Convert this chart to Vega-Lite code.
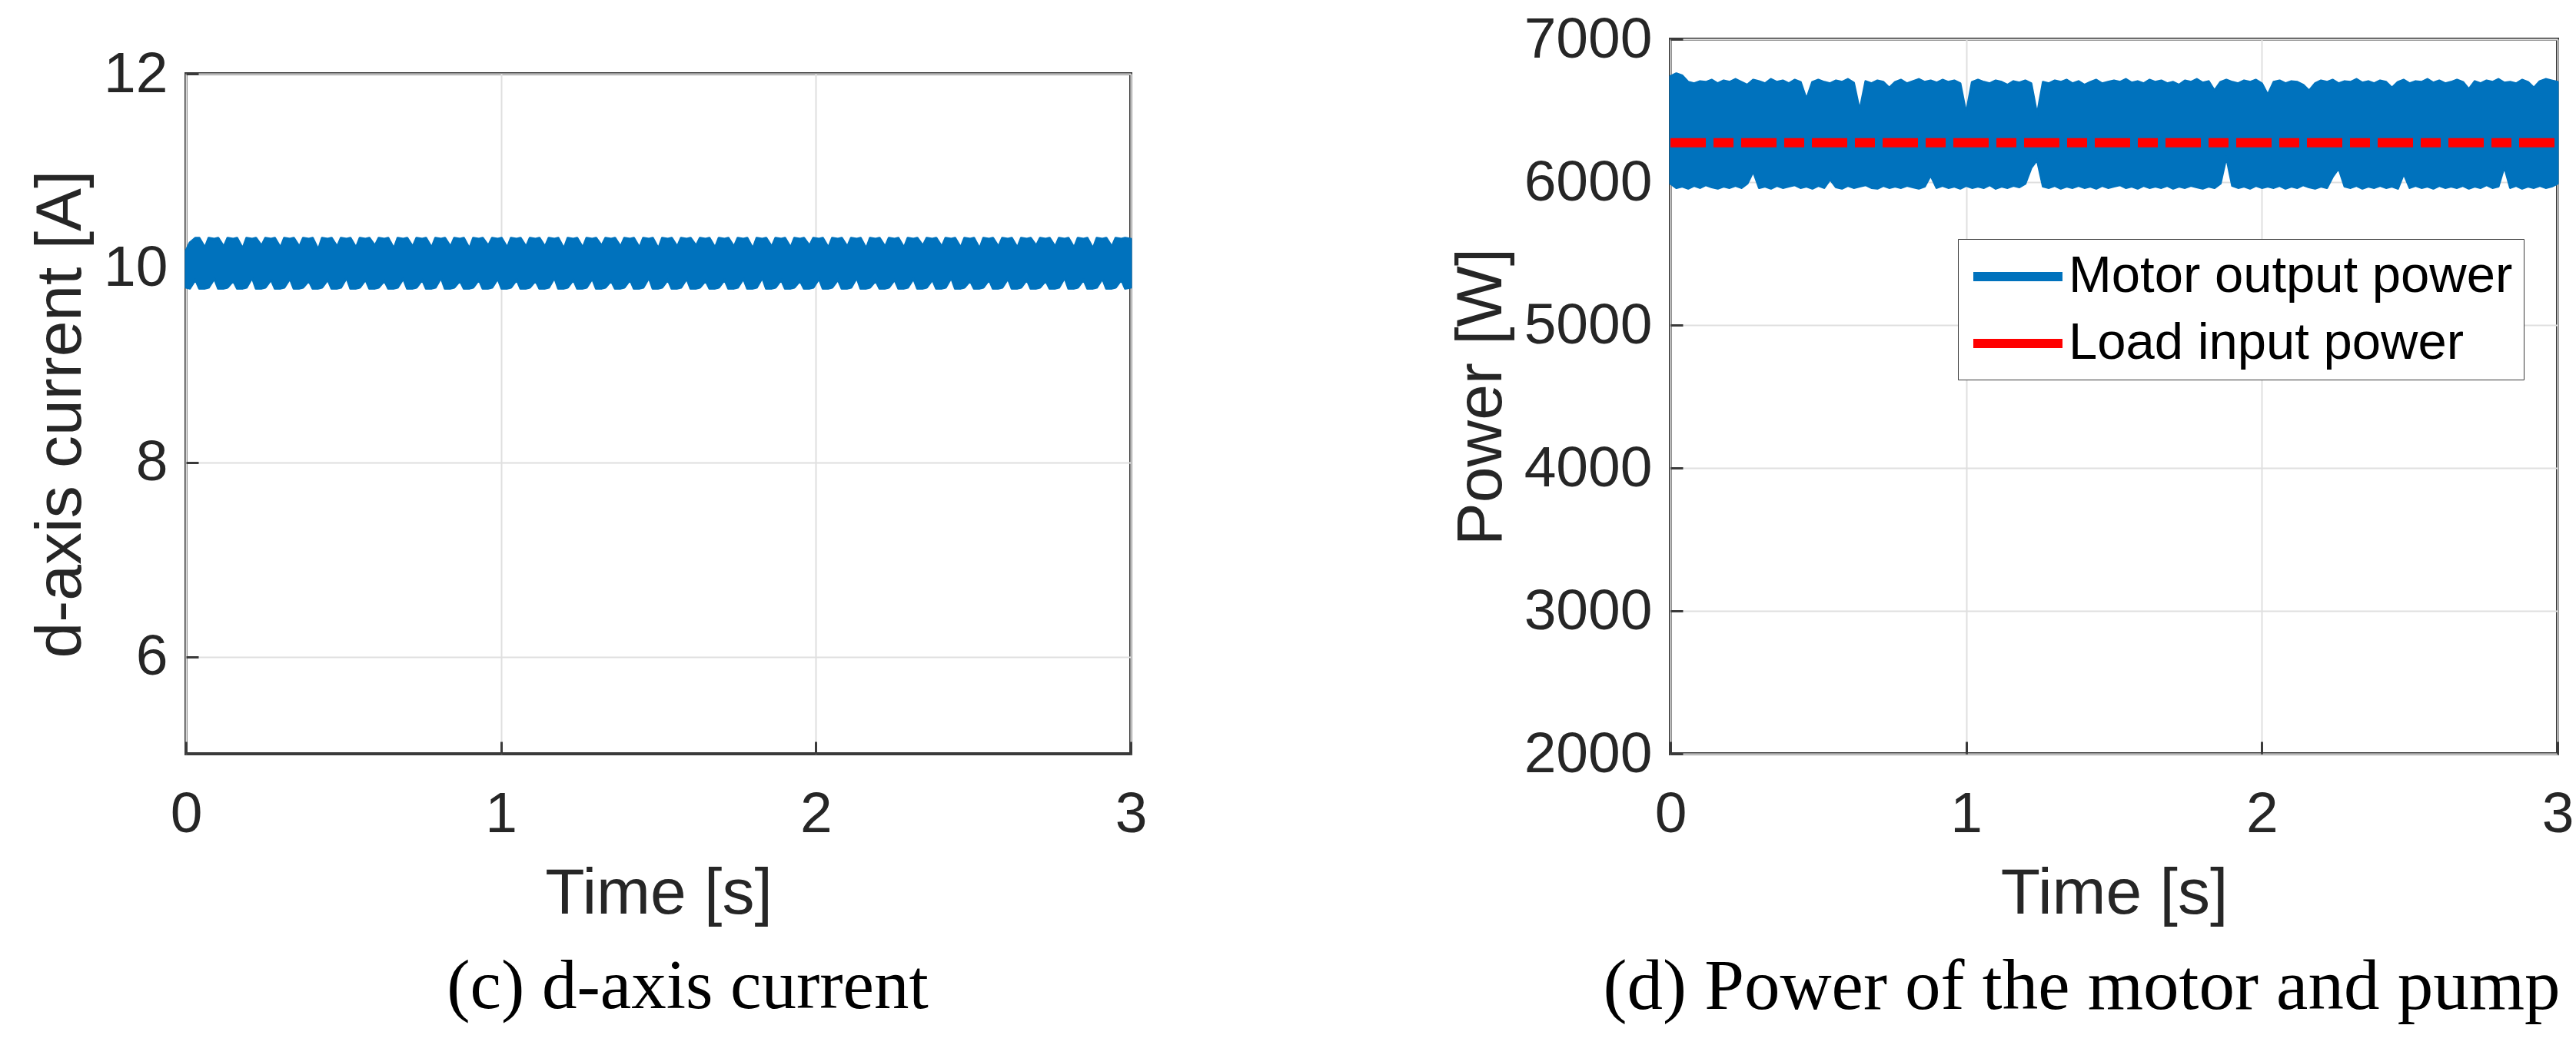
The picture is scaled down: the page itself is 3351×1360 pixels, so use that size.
{
  "$schema": "https://vega.github.io/schema/vega-lite/v6.json",
  "background": "white",
  "padding": {"left": 35, "top": 12, "right": 9, "bottom": 10},
  "config": {
    "font": "Liberation Sans",
    "view": {"stroke": "#3a3a3a", "strokeWidth": 4},
    "axis": {"labelFont": "Liberation Sans", "labelFontSize": 75, "labelColor": "#262626", "titleFont": "Liberation Sans", "titleFontSize": 84, "titleFontWeight": "normal", "titleColor": "#262626", "domain": false, "ticks": true, "tickSize": -16, "tickWidth": 3, "tickColor": "#3a3a3a", "gridColor": "#dfdfdf", "gridWidth": 2, "labelPadding": 40},
    "axisX": {"labelPadding": 58, "titlePadding": 25, "labelFlush": false},
    "axisY": {"titlePadding": 12},
    "title": {"font": "Liberation Serif", "fontSize": 91, "fontWeight": "normal", "color": "#000000", "orient": "bottom", "baseline": "top", "offset": 35}
  },
  "spacing": 1931,
  "bounds": "flush",
  "hconcat": [
    {
      "spacing": 44,
      "bounds": "flush",
      "vconcat": [
        {"data": {"values": []}, "mark": "point", "width": 1229, "height": 1, "view": {"stroke": null}},
        {
          "width": 1229,
          "height": 885,
          "title": {"text": "(c) d-axis current", "dx": 38},
          "data": {"values": [
{"t":0,"a":9.80,"b":10.18},{"t":0.012,"a":9.79,"b":10.26},{"t":0.03,"a":9.88,"b":10.31},{"t":0.042,"a":9.79,"b":10.31},
{"t":0.06,"a":9.79,"b":10.21},{"t":0.072,"a":9.80,"b":10.31},{"t":0.09,"a":9.89,"b":10.30},{"t":0.102,"a":9.79,"b":10.31},
{"t":0.12,"a":9.79,"b":10.22},{"t":0.132,"a":9.80,"b":10.31},{"t":0.15,"a":9.87,"b":10.30},{"t":0.162,"a":9.79,"b":10.31},
{"t":0.18,"a":9.79,"b":10.20},{"t":0.192,"a":9.80,"b":10.31},{"t":0.21,"a":9.90,"b":10.30},{"t":0.222,"a":9.79,"b":10.31},
{"t":0.24,"a":9.79,"b":10.23},{"t":0.252,"a":9.80,"b":10.31},{"t":0.27,"a":9.88,"b":10.30},{"t":0.282,"a":9.79,"b":10.31},
{"t":0.3,"a":9.79,"b":10.21},{"t":0.312,"a":9.80,"b":10.31},{"t":0.33,"a":9.89,"b":10.30},{"t":0.342,"a":9.79,"b":10.31},
{"t":0.36,"a":9.79,"b":10.22},{"t":0.372,"a":9.80,"b":10.31},{"t":0.39,"a":9.87,"b":10.30},{"t":0.402,"a":9.79,"b":10.31},
{"t":0.42,"a":9.79,"b":10.19},{"t":0.432,"a":9.80,"b":10.31},{"t":0.45,"a":9.88,"b":10.30},{"t":0.462,"a":9.79,"b":10.31},
{"t":0.48,"a":9.79,"b":10.22},{"t":0.492,"a":9.80,"b":10.31},{"t":0.51,"a":9.90,"b":10.30},{"t":0.522,"a":9.79,"b":10.31},
{"t":0.54,"a":9.79,"b":10.21},{"t":0.552,"a":9.80,"b":10.31},{"t":0.57,"a":9.88,"b":10.30},{"t":0.582,"a":9.79,"b":10.31},
{"t":0.6,"a":9.79,"b":10.23},{"t":0.612,"a":9.80,"b":10.31},{"t":0.63,"a":9.87,"b":10.30},{"t":0.642,"a":9.79,"b":10.31},
{"t":0.66,"a":9.79,"b":10.20},{"t":0.672,"a":9.80,"b":10.31},{"t":0.69,"a":9.89,"b":10.30},{"t":0.702,"a":9.79,"b":10.31},
{"t":0.72,"a":9.79,"b":10.22},{"t":0.732,"a":9.80,"b":10.31},{"t":0.75,"a":9.88,"b":10.30},{"t":0.762,"a":9.79,"b":10.31},
{"t":0.78,"a":9.79,"b":10.21},{"t":0.792,"a":9.80,"b":10.31},{"t":0.81,"a":9.90,"b":10.30},{"t":0.822,"a":9.79,"b":10.31},
{"t":0.84,"a":9.79,"b":10.22},{"t":0.852,"a":9.80,"b":10.31},{"t":0.87,"a":9.87,"b":10.30},{"t":0.882,"a":9.79,"b":10.31},
{"t":0.9,"a":9.79,"b":10.20},{"t":0.912,"a":9.80,"b":10.31},{"t":0.93,"a":9.88,"b":10.30},{"t":0.942,"a":9.79,"b":10.31},
{"t":0.96,"a":9.79,"b":10.23},{"t":0.972,"a":9.80,"b":10.31},{"t":0.99,"a":9.89,"b":10.30},{"t":1.002,"a":9.79,"b":10.31},
{"t":1.02,"a":9.79,"b":10.21},{"t":1.032,"a":9.80,"b":10.31},{"t":1.05,"a":9.88,"b":10.30},{"t":1.062,"a":9.79,"b":10.31},
{"t":1.08,"a":9.79,"b":10.22},{"t":1.092,"a":9.80,"b":10.31},{"t":1.11,"a":9.87,"b":10.30},{"t":1.122,"a":9.79,"b":10.31},
{"t":1.14,"a":9.79,"b":10.22},{"t":1.152,"a":9.80,"b":10.31},{"t":1.17,"a":9.90,"b":10.30},{"t":1.182,"a":9.79,"b":10.31},
{"t":1.2,"a":9.79,"b":10.20},{"t":1.212,"a":9.80,"b":10.31},{"t":1.23,"a":9.88,"b":10.30},{"t":1.242,"a":9.79,"b":10.31},
{"t":1.26,"a":9.79,"b":10.21},{"t":1.272,"a":9.80,"b":10.31},{"t":1.29,"a":9.89,"b":10.30},{"t":1.302,"a":9.79,"b":10.31},
{"t":1.32,"a":9.79,"b":10.23},{"t":1.332,"a":9.80,"b":10.31},{"t":1.35,"a":9.87,"b":10.30},{"t":1.362,"a":9.79,"b":10.31},
{"t":1.38,"a":9.79,"b":10.22},{"t":1.392,"a":9.80,"b":10.31},{"t":1.41,"a":9.88,"b":10.30},{"t":1.422,"a":9.79,"b":10.31},
{"t":1.44,"a":9.79,"b":10.21},{"t":1.452,"a":9.80,"b":10.31},{"t":1.47,"a":9.90,"b":10.30},{"t":1.482,"a":9.79,"b":10.31},
{"t":1.5,"a":9.79,"b":10.20},{"t":1.512,"a":9.80,"b":10.31},{"t":1.53,"a":9.88,"b":10.30},{"t":1.542,"a":9.79,"b":10.31},
{"t":1.56,"a":9.79,"b":10.22},{"t":1.572,"a":9.80,"b":10.31},{"t":1.59,"a":9.89,"b":10.30},{"t":1.602,"a":9.79,"b":10.31},
{"t":1.62,"a":9.79,"b":10.23},{"t":1.632,"a":9.80,"b":10.31},{"t":1.65,"a":9.87,"b":10.30},{"t":1.662,"a":9.79,"b":10.31},
{"t":1.68,"a":9.79,"b":10.21},{"t":1.692,"a":9.80,"b":10.31},{"t":1.71,"a":9.88,"b":10.30},{"t":1.722,"a":9.79,"b":10.31},
{"t":1.74,"a":9.79,"b":10.22},{"t":1.752,"a":9.80,"b":10.31},{"t":1.77,"a":9.89,"b":10.30},{"t":1.782,"a":9.79,"b":10.31},
{"t":1.8,"a":9.79,"b":10.20},{"t":1.812,"a":9.80,"b":10.31},{"t":1.83,"a":9.90,"b":10.30},{"t":1.842,"a":9.79,"b":10.31},
{"t":1.86,"a":9.79,"b":10.22},{"t":1.872,"a":9.80,"b":10.31},{"t":1.89,"a":9.88,"b":10.30},{"t":1.902,"a":9.79,"b":10.31},
{"t":1.92,"a":9.79,"b":10.21},{"t":1.932,"a":9.80,"b":10.31},{"t":1.95,"a":9.87,"b":10.30},{"t":1.962,"a":9.79,"b":10.31},
{"t":1.98,"a":9.79,"b":10.23},{"t":1.992,"a":9.80,"b":10.31},{"t":2.01,"a":9.89,"b":10.30},{"t":2.022,"a":9.79,"b":10.31},
{"t":2.04,"a":9.79,"b":10.21},{"t":2.052,"a":9.80,"b":10.31},{"t":2.07,"a":9.88,"b":10.30},{"t":2.082,"a":9.79,"b":10.31},
{"t":2.1,"a":9.79,"b":10.22},{"t":2.112,"a":9.80,"b":10.31},{"t":2.13,"a":9.90,"b":10.30},{"t":2.142,"a":9.79,"b":10.31},
{"t":2.16,"a":9.79,"b":10.20},{"t":2.172,"a":9.80,"b":10.31},{"t":2.19,"a":9.87,"b":10.30},{"t":2.202,"a":9.79,"b":10.31},
{"t":2.22,"a":9.79,"b":10.22},{"t":2.232,"a":9.80,"b":10.31},{"t":2.25,"a":9.88,"b":10.30},{"t":2.262,"a":9.79,"b":10.31},
{"t":2.28,"a":9.79,"b":10.21},{"t":2.292,"a":9.80,"b":10.31},{"t":2.31,"a":9.89,"b":10.30},{"t":2.322,"a":9.79,"b":10.31},
{"t":2.34,"a":9.79,"b":10.23},{"t":2.352,"a":9.80,"b":10.31},{"t":2.37,"a":9.88,"b":10.30},{"t":2.382,"a":9.79,"b":10.31},
{"t":2.4,"a":9.79,"b":10.22},{"t":2.412,"a":9.80,"b":10.31},{"t":2.43,"a":9.90,"b":10.30},{"t":2.442,"a":9.79,"b":10.31},
{"t":2.46,"a":9.79,"b":10.21},{"t":2.472,"a":9.80,"b":10.31},{"t":2.49,"a":9.87,"b":10.30},{"t":2.502,"a":9.79,"b":10.31},
{"t":2.52,"a":9.79,"b":10.20},{"t":2.532,"a":9.80,"b":10.31},{"t":2.55,"a":9.88,"b":10.30},{"t":2.562,"a":9.79,"b":10.31},
{"t":2.58,"a":9.79,"b":10.22},{"t":2.592,"a":9.80,"b":10.31},{"t":2.61,"a":9.89,"b":10.30},{"t":2.622,"a":9.79,"b":10.31},
{"t":2.64,"a":9.79,"b":10.21},{"t":2.652,"a":9.80,"b":10.31},{"t":2.67,"a":9.88,"b":10.30},{"t":2.682,"a":9.79,"b":10.31},
{"t":2.7,"a":9.79,"b":10.23},{"t":2.712,"a":9.80,"b":10.31},{"t":2.73,"a":9.87,"b":10.30},{"t":2.742,"a":9.79,"b":10.31},
{"t":2.76,"a":9.79,"b":10.22},{"t":2.772,"a":9.80,"b":10.31},{"t":2.79,"a":9.90,"b":10.30},{"t":2.802,"a":9.79,"b":10.31},
{"t":2.82,"a":9.79,"b":10.21},{"t":2.832,"a":9.80,"b":10.31},{"t":2.85,"a":9.88,"b":10.30},{"t":2.862,"a":9.79,"b":10.31},
{"t":2.88,"a":9.79,"b":10.20},{"t":2.892,"a":9.80,"b":10.31},{"t":2.91,"a":9.89,"b":10.30},{"t":2.922,"a":9.79,"b":10.31},
{"t":2.94,"a":9.79,"b":10.22},{"t":2.952,"a":9.80,"b":10.31},{"t":2.97,"a":9.88,"b":10.30},{"t":2.982,"a":9.79,"b":10.31},
{"t":3,"a":9.80,"b":10.30}
          ]},
          "mark": {"type": "area", "fill": "#0072BD", "stroke": "#0072BD", "strokeWidth": 3, "strokeJoin": "round"},
          "encoding": {
            "x": {"field": "t", "type": "quantitative", "scale": {"domain": [0, 3], "nice": false}, "axis": {"values": [0, 1, 2, 3], "format": "d", "title": "Time [s]"}},
            "y": {"field": "a", "type": "quantitative", "scale": {"domain": [5, 12], "nice": false, "zero": false}, "axis": {"values": [6, 8, 10, 12], "format": "d", "title": "d-axis current [A]"}},
            "y2": {"field": "b"}
          }
        }
      ]
    },
    {
      "width": 1154,
      "height": 930,
      "title": {"text": "(d) Power of the motor and pump", "dx": -42, "fontSize": 93},
      "encoding": {
        "x": {"field": "t", "type": "quantitative", "scale": {"domain": [0, 3], "nice": false}, "axis": {"values": [0, 1, 2, 3], "format": "d", "title": "Time [s]"}}
      },
      "layer": [
        {
          "data": {"values": [
{"t":0,"a":5990,"b":6740},{"t":0.02,"a":5960,"b":6760},{"t":0.04,"a":5970,"b":6745},{"t":0.06,"a":5955,"b":6700},{"t":0.08,"a":5975,"b":6690},
{"t":0.1,"a":5960,"b":6705},{"t":0.12,"a":5980,"b":6700},{"t":0.14,"a":5965,"b":6715},{"t":0.16,"a":5955,"b":6690},{"t":0.18,"a":5970,"b":6710},
{"t":0.2,"a":5960,"b":6700},{"t":0.22,"a":5975,"b":6720},{"t":0.24,"a":5960,"b":6700},{"t":0.26,"a":5990,"b":6680},{"t":0.28,"a":6075,"b":6715},
{"t":0.3,"a":5960,"b":6705},{"t":0.32,"a":5970,"b":6690},{"t":0.34,"a":5955,"b":6720},{"t":0.36,"a":5975,"b":6700},{"t":0.38,"a":5960,"b":6710},
{"t":0.4,"a":5970,"b":6690},{"t":0.42,"a":5980,"b":6715},{"t":0.44,"a":5960,"b":6700},{"t":0.46,"a":5970,"b":6580},{"t":0.48,"a":5955,"b":6700},
{"t":0.5,"a":5975,"b":6715},{"t":0.52,"a":5960,"b":6700},{"t":0.54,"a":6020,"b":6690},{"t":0.56,"a":5965,"b":6710},{"t":0.58,"a":5955,"b":6700},
{"t":0.6,"a":5975,"b":6720},{"t":0.62,"a":5960,"b":6695},{"t":0.64,"a":5970,"b":6500},{"t":0.66,"a":5980,"b":6705},{"t":0.68,"a":5960,"b":6690},
{"t":0.7,"a":5955,"b":6710},{"t":0.72,"a":5975,"b":6700},{"t":0.74,"a":5960,"b":6660},{"t":0.76,"a":5970,"b":6700},{"t":0.78,"a":5960,"b":6715},
{"t":0.8,"a":5975,"b":6690},{"t":0.82,"a":5965,"b":6705},{"t":0.84,"a":5955,"b":6720},{"t":0.86,"a":5970,"b":6700},{"t":0.88,"a":6048,"b":6710},
{"t":0.9,"a":5960,"b":6695},{"t":0.92,"a":5975,"b":6715},{"t":0.94,"a":5960,"b":6700},{"t":0.96,"a":5970,"b":6710},{"t":0.98,"a":5955,"b":6690},
{"t":1,"a":5975,"b":6480},{"t":1.02,"a":5960,"b":6700},{"t":1.04,"a":5970,"b":6715},{"t":1.06,"a":5960,"b":6700},{"t":1.08,"a":5980,"b":6690},
{"t":1.1,"a":5955,"b":6710},{"t":1.12,"a":5970,"b":6700},{"t":1.14,"a":5960,"b":6680},{"t":1.16,"a":5975,"b":6705},{"t":1.18,"a":5965,"b":6695},
{"t":1.2,"a":5990,"b":6710},{"t":1.22,"a":6100,"b":6690},{"t":1.24,"a":6156,"b":6470},{"t":1.26,"a":5970,"b":6700},{"t":1.28,"a":5960,"b":6690},
{"t":1.3,"a":5975,"b":6710},{"t":1.32,"a":5955,"b":6700},{"t":1.34,"a":5970,"b":6715},{"t":1.36,"a":5960,"b":6690},{"t":1.38,"a":5975,"b":6705},
{"t":1.4,"a":5960,"b":6680},{"t":1.42,"a":5970,"b":6700},{"t":1.44,"a":5955,"b":6715},{"t":1.46,"a":5975,"b":6690},{"t":1.48,"a":5960,"b":6700},
{"t":1.5,"a":5970,"b":6710},{"t":1.52,"a":5980,"b":6700},{"t":1.54,"a":5960,"b":6720},{"t":1.56,"a":5970,"b":6695},{"t":1.58,"a":5955,"b":6705},
{"t":1.6,"a":5975,"b":6690},{"t":1.62,"a":5960,"b":6715},{"t":1.64,"a":5970,"b":6700},{"t":1.66,"a":5960,"b":6710},{"t":1.68,"a":5975,"b":6690},
{"t":1.7,"a":5955,"b":6700},{"t":1.72,"a":5970,"b":6680},{"t":1.74,"a":5960,"b":6710},{"t":1.76,"a":5975,"b":6700},{"t":1.78,"a":5965,"b":6720},
{"t":1.8,"a":5955,"b":6695},{"t":1.82,"a":5970,"b":6705},{"t":1.84,"a":5960,"b":6640},{"t":1.86,"a":5990,"b":6700},{"t":1.88,"a":6177,"b":6715},
{"t":1.9,"a":5975,"b":6700},{"t":1.92,"a":5960,"b":6690},{"t":1.94,"a":5970,"b":6710},{"t":1.96,"a":5955,"b":6700},{"t":1.98,"a":5975,"b":6715},
{"t":2,"a":5960,"b":6690},{"t":2.02,"a":5970,"b":6610},{"t":2.04,"a":5960,"b":6700},{"t":2.06,"a":5975,"b":6710},{"t":2.08,"a":5955,"b":6690},
{"t":2.1,"a":5970,"b":6705},{"t":2.12,"a":5960,"b":6700},{"t":2.14,"a":5980,"b":6680},{"t":2.16,"a":5965,"b":6640},{"t":2.18,"a":5955,"b":6690},
{"t":2.2,"a":5970,"b":6710},{"t":2.22,"a":5960,"b":6700},{"t":2.24,"a":6040,"b":6715},{"t":2.26,"a":6097,"b":6690},{"t":2.28,"a":5970,"b":6705},
{"t":2.3,"a":5960,"b":6700},{"t":2.32,"a":5975,"b":6720},{"t":2.34,"a":5955,"b":6695},{"t":2.36,"a":5970,"b":6705},{"t":2.38,"a":5960,"b":6690},
{"t":2.4,"a":5975,"b":6710},{"t":2.42,"a":5960,"b":6700},{"t":2.44,"a":5970,"b":6660},{"t":2.46,"a":5955,"b":6700},{"t":2.48,"a":6060,"b":6715},
{"t":2.5,"a":5960,"b":6690},{"t":2.52,"a":5975,"b":6705},{"t":2.54,"a":5960,"b":6700},{"t":2.56,"a":5970,"b":6720},{"t":2.58,"a":5955,"b":6695},
{"t":2.6,"a":5975,"b":6710},{"t":2.62,"a":5960,"b":6690},{"t":2.64,"a":5970,"b":6700},{"t":2.66,"a":5960,"b":6715},{"t":2.68,"a":5975,"b":6700},
{"t":2.7,"a":5955,"b":6650},{"t":2.72,"a":5970,"b":6705},{"t":2.74,"a":5960,"b":6690},{"t":2.76,"a":5980,"b":6710},{"t":2.78,"a":5960,"b":6700},
{"t":2.8,"a":5970,"b":6720},{"t":2.82,"a":6108,"b":6695},{"t":2.84,"a":5960,"b":6700},{"t":2.86,"a":5975,"b":6690},{"t":2.88,"a":5955,"b":6715},
{"t":2.9,"a":5970,"b":6700},{"t":2.92,"a":5960,"b":6660},{"t":2.94,"a":5975,"b":6705},{"t":2.96,"a":5960,"b":6720},{"t":2.98,"a":5970,"b":6710},
{"t":3,"a":5990,"b":6700}
          ]},
          "mark": {"type": "area", "fill": "#0072BD", "strokeWidth": 3, "strokeJoin": "round"},
          "encoding": {
            "y": {"field": "a", "type": "quantitative", "scale": {"domain": [2000, 7000], "nice": false, "zero": false}, "axis": {"values": [2000, 3000, 4000, 5000, 6000, 7000], "format": "d", "title": "Power [W]"}},
            "y2": {"field": "b"},
            "stroke": {
              "datum": "Motor output power",
              "type": "nominal",
              "scale": {"domain": ["Motor output power", "Load input power"], "range": ["#0072BD", "#FF0000"]},
              "legend": {
                "orient": "none", "legendX": 2305, "legendY": 260, "title": null,
                "symbolType": "M-2,0H2", "symbolSize": 3364, "symbolStrokeWidth": 12, "symbolOffset": 29,
                "labelFont": "Liberation Sans", "labelFontSize": 67, "labelColor": "#000000", "labelLimit": 1000, "labelOffset": 31,
                "fillColor": "white", "strokeColor": "#3a3a3a", "padding": 14, "rowPadding": 19,
                "encode": {
                  "symbols": {"update": {"strokeDash": {"signal": "datum.value === 'Load input power' ? [46, 10, 26, 10] : [1, 0]"}}},
                  "legend": {"update": {"strokeWidth": {"value": 4}}}
                }
              }
            }
          }
        },
        {
          "data": {"values": [{"t": 0, "p": 6275}, {"t": 3, "p": 6275}]},
          "mark": {"type": "line", "strokeWidth": 12, "strokeCap": "butt", "strokeDash": [46, 10, 26, 10]},
          "encoding": {
            "y": {"field": "p", "type": "quantitative"},
            "stroke": {"datum": "Load input power", "type": "nominal"}
          }
        }
      ]
    }
  ]
}
